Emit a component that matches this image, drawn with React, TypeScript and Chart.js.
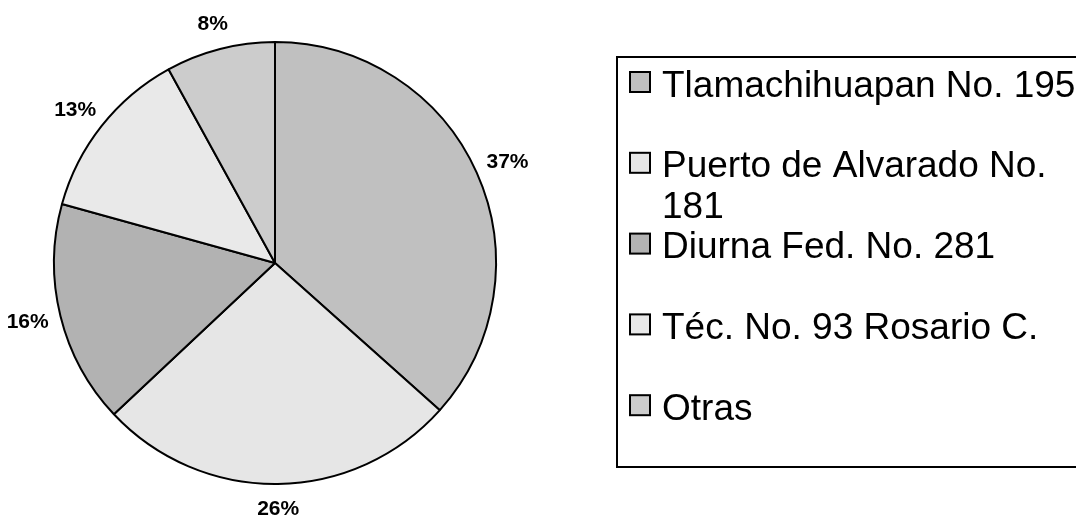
import React, { useEffect, useRef } from "react";
import { Chart, registerables } from "chart.js";

Chart.register(...registerables);

const categories = [
  "Tlamachihuapan No. 195",
  "Puerto de Alvarado No. 181",
  "Diurna Fed. No. 281",
  "Téc. No. 93 Rosario C.",
  "Otras",
];
const shares = [36.6, 26.4, 16.3, 12.7, 8.0];
const sliceColors = ["#c0c0c0", "#e6e6e6", "#b2b2b2", "#e9e9e9", "#cccccc"];

const FONT = '"Liberation Sans", Arial, sans-serif';

const labelPlugin = {
  id: "outsideLabels",
  afterDatasetsDraw(chart: any) {
    const ctx = chart.ctx;
    const meta = chart.getDatasetMeta(0);
    const total = shares.reduce((a, b) => a + b, 0);
    ctx.save();
    ctx.font = `bold 21px ${FONT}`;
    ctx.fillStyle = "#000";
    ctx.textAlign = "center";
    ctx.textBaseline = "middle";
    meta.data.forEach((arc: any, i: number) => {
      const p = arc.getProps(["x", "y", "startAngle", "endAngle", "outerRadius"], true);
      const mid = (p.startAngle + p.endAngle) / 2;
      const dx = Math.cos(mid);
      const dy = Math.sin(mid);
      const text = Math.round((shares[i] / total) * 100) + "%";
      const w = ctx.measureText(text).width;
      const h = 15;
      const r = p.outerRadius + 18;
      const cx = p.x + r * dx + (w / 2) * dx * 0.75;
      const cy = p.y + r * dy + (h / 2) * dy;
      ctx.fillText(text, cx, cy);
    });
    ctx.restore();
  },
};

function wrapText(ctx: CanvasRenderingContext2D, text: string, maxWidth: number): string[] {
  const words = text.split(" ");
  const lines: string[] = [];
  let cur = "";
  for (const w of words) {
    const test = cur ? cur + " " + w : w;
    if (cur && ctx.measureText(test).width > maxWidth) {
      lines.push(cur);
      cur = w;
    } else {
      cur = test;
    }
  }
  if (cur) lines.push(cur);
  return lines;
}

const legendPlugin = {
  id: "boxLegend",
  afterDraw(chart: any) {
    const ctx = chart.ctx as CanvasRenderingContext2D;
    ctx.save();
    ctx.lineWidth = 2;
    ctx.strokeStyle = "#000";
    ctx.strokeRect(617, 57, 700, 410);
    ctx.font = `37px ${FONT}`;
    ctx.textAlign = "left";
    ctx.textBaseline = "alphabetic";
    categories.forEach((label, i) => {
      const top = 71 + i * 80.8;
      ctx.fillStyle = sliceColors[i];
      ctx.fillRect(630, top + 1, 20, 20);
      ctx.lineWidth = 2;
      ctx.strokeStyle = "#000";
      ctx.strokeRect(630, top + 1, 20, 20);
      ctx.fillStyle = "#000";
      const lines = wrapText(ctx, label, 440);
      lines.forEach((ln, j) => {
        ctx.fillText(ln, 662, top + 25.5 + j * 41);
      });
    });
    ctx.restore();
  },
};

export default function App() {
  const canvasRef = useRef<HTMLCanvasElement | null>(null);

  useEffect(() => {
    if (!canvasRef.current) return;
    const chart = new Chart(canvasRef.current, {
      type: "pie",
      data: {
        labels: categories,
        datasets: [
          {
            data: shares,
            backgroundColor: sliceColors,
            borderColor: "#000",
            borderWidth: 2,
          },
        ],
      },
      options: {
        animation: false,
        responsive: false,
        maintainAspectRatio: false,
        layout: { padding: { left: 53, right: 579, top: 41, bottom: 31 } },
        plugins: {
          legend: { display: false },
          tooltip: { enabled: false },
        },
      },
      plugins: [labelPlugin, legendPlugin],
    });
    return () => chart.destroy();
  }, []);

  return (
    <div style={{ position: "absolute", left: 0, top: 0, width: 1076, height: 516, background: "#fff" }}>
      <canvas ref={canvasRef} width={1076} height={516} style={{ display: "block" }} />
    </div>
  );
}
